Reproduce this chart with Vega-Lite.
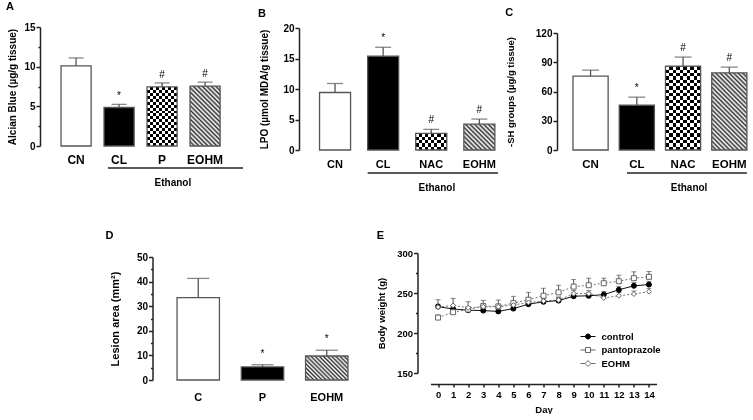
{
"$schema": "https://vega.github.io/schema/vega-lite/v6.json",
"padding": {"left": 5, "top": 1, "right": 0, "bottom": 0},
"spacing": 36,
"center": true,
"resolve": {"scale": {"shape": "independent", "fill": "independent", "stroke": "independent"}, "legend": {"shape": "independent", "fill": "independent", "stroke": "independent"}},
"config": {
  "font": "Liberation Sans",
  "view": {"stroke": null},
  "axis": {"labelFontWeight": "bold", "titleFontWeight": "bold", "labelColor": "#000", "titleColor": "#000", "domainColor": "#222", "tickColor": "#222", "domainWidth": 1.5, "tickWidth": 1.5, "grid": false, "labelOverlap": false},
  "title": {"fontSize": 11, "fontWeight": "bold", "anchor": "start", "frame": "bounds", "color": "#000"},
  "legend": {"labelFontWeight": "bold", "labelColor": "#000"}
},
"vconcat": [
{
"hconcat": [
{
  "width": 210, "height": 119,
  "title": {"text": "A", "offset": 10, "dx": -2},
  "data": {"values": [{"g":"CN","mean":10.1,"upper":11.1,"sig":""},{"g":"CL","mean":4.85,"upper":5.25,"sig":"*"},{"g":"P","mean":7.45,"upper":7.95,"sig":"#"},{"g":"EOHM","mean":7.55,"upper":8.05,"sig":"#"}]},
  "encoding": {"x": {"field": "g", "type": "nominal", "scale": {"domain": ["CN","CL","P","EOHM"], "paddingInner": 0.3, "paddingOuter": 0.592, "align": 0.413}, "axis": {"title": null, "labelAngle": 0, "ticks": false, "domain": false, "labelPadding": 8, "labelFontSize": 12}}},
  "layer": [
    {"mark": {"type": "bar"}, "encoding": {"y": {"field": "mean", "type": "quantitative", "scale": {"domain": [0, 15], "nice": false}, "axis": {"title": "Alcian Blue (µg/g tissue)", "titleFontSize": 10, "titlePadding": 6, "labelFontSize": 10, "labelPadding": 1, "labelOverlap": false, "tickCount": 30, "format": "d", "values": [0,2.5,5,7.5,10,12.5,15], "labelExpr": "datum.value % 5 === 0 ? datum.label : ''", "tickSize": {"condition": {"test": "datum.value % 5 === 0", "value": 4}, "value": 2}}}, "fill": {"condition": {"test": "datum.g === 'CL'", "value": "#000"}, "value": "#fff"}}},
    {"transform": [{"filter": "datum.g === 'P'"}], "mark": {"type": "bar", "fill": {"gradient":"linear","x1":0,"y1":0,"x2":0,"y2":1,"stops":[{"offset":0,"color":"#000"},{"offset":0.05,"color":"#000"},{"offset":0.05,"color":"#fff"},{"offset":0.1,"color":"#fff"},{"offset":0.1,"color":"#000"},{"offset":0.15,"color":"#000"},{"offset":0.15,"color":"#fff"},{"offset":0.2,"color":"#fff"},{"offset":0.2,"color":"#000"},{"offset":0.25,"color":"#000"},{"offset":0.25,"color":"#fff"},{"offset":0.3,"color":"#fff"},{"offset":0.3,"color":"#000"},{"offset":0.35,"color":"#000"},{"offset":0.35,"color":"#fff"},{"offset":0.4,"color":"#fff"},{"offset":0.4,"color":"#000"},{"offset":0.45,"color":"#000"},{"offset":0.45,"color":"#fff"},{"offset":0.5,"color":"#fff"},{"offset":0.5,"color":"#000"},{"offset":0.55,"color":"#000"},{"offset":0.55,"color":"#fff"},{"offset":0.6,"color":"#fff"},{"offset":0.6,"color":"#000"},{"offset":0.65,"color":"#000"},{"offset":0.65,"color":"#fff"},{"offset":0.7,"color":"#fff"},{"offset":0.7,"color":"#000"},{"offset":0.75,"color":"#000"},{"offset":0.75,"color":"#fff"},{"offset":0.8,"color":"#fff"},{"offset":0.8,"color":"#000"},{"offset":0.85,"color":"#000"},{"offset":0.85,"color":"#fff"},{"offset":0.9,"color":"#fff"},{"offset":0.9,"color":"#000"},{"offset":0.95,"color":"#000"},{"offset":0.95,"color":"#fff"},{"offset":1,"color":"#fff"}]}}, "encoding": {"y": {"field": "mean", "type": "quantitative"}}},
    {"transform": [{"filter": "datum.g === 'P'"}], "mark": {"type": "bar", "blend": "difference", "fill": {"gradient":"linear","x1":0,"y1":0,"x2":1,"y2":0,"stops":[{"offset":0,"color":"#fff"},{"offset":0.1,"color":"#fff"},{"offset":0.1,"color":"#000"},{"offset":0.2,"color":"#000"},{"offset":0.2,"color":"#fff"},{"offset":0.3,"color":"#fff"},{"offset":0.3,"color":"#000"},{"offset":0.4,"color":"#000"},{"offset":0.4,"color":"#fff"},{"offset":0.5,"color":"#fff"},{"offset":0.5,"color":"#000"},{"offset":0.6,"color":"#000"},{"offset":0.6,"color":"#fff"},{"offset":0.7,"color":"#fff"},{"offset":0.7,"color":"#000"},{"offset":0.8,"color":"#000"},{"offset":0.8,"color":"#fff"},{"offset":0.9,"color":"#fff"},{"offset":0.9,"color":"#000"},{"offset":1,"color":"#000"}]}}, "encoding": {"y": {"field": "mean", "type": "quantitative"}}},
    {"transform": [{"filter": "datum.g === 'EOHM'"}], "mark": {"type": "bar", "fill": {"gradient":"linear","x1":0,"y1":1,"x2":0.603,"y2":-0.2,"stops":[{"offset":0,"color":"#333"},{"offset":0.025,"color":"#fff"},{"offset":0.05,"color":"#333"},{"offset":0.075,"color":"#fff"},{"offset":0.1,"color":"#333"},{"offset":0.125,"color":"#fff"},{"offset":0.15,"color":"#333"},{"offset":0.175,"color":"#fff"},{"offset":0.2,"color":"#333"},{"offset":0.225,"color":"#fff"},{"offset":0.25,"color":"#333"},{"offset":0.275,"color":"#fff"},{"offset":0.3,"color":"#333"},{"offset":0.325,"color":"#fff"},{"offset":0.35,"color":"#333"},{"offset":0.375,"color":"#fff"},{"offset":0.4,"color":"#333"},{"offset":0.425,"color":"#fff"},{"offset":0.45,"color":"#333"},{"offset":0.475,"color":"#fff"},{"offset":0.5,"color":"#333"},{"offset":0.525,"color":"#fff"},{"offset":0.55,"color":"#333"},{"offset":0.575,"color":"#fff"},{"offset":0.6,"color":"#333"},{"offset":0.625,"color":"#fff"},{"offset":0.65,"color":"#333"},{"offset":0.675,"color":"#fff"},{"offset":0.7,"color":"#333"},{"offset":0.725,"color":"#fff"},{"offset":0.75,"color":"#333"},{"offset":0.775,"color":"#fff"},{"offset":0.8,"color":"#333"},{"offset":0.825,"color":"#fff"},{"offset":0.85,"color":"#333"},{"offset":0.875,"color":"#fff"},{"offset":0.9,"color":"#333"},{"offset":0.925,"color":"#fff"},{"offset":0.95,"color":"#333"},{"offset":0.975,"color":"#fff"},{"offset":1,"color":"#333"}]}}, "encoding": {"y": {"field": "mean", "type": "quantitative"}}},
    {"mark": {"type": "bar", "fill": "transparent", "stroke": "#555", "strokeWidth": 1.3}, "encoding": {"y": {"field": "mean", "type": "quantitative"}}},
    {"mark": {"type": "rule", "color": "#555", "strokeWidth": 1.3}, "encoding": {"y": {"field": "mean", "type": "quantitative"}, "y2": {"field": "upper"}}},
    {"mark": {"type": "tick", "color": "#555", "thickness": 1.3, "size": 15}, "encoding": {"y": {"field": "upper", "type": "quantitative"}}},
    {"mark": {"type": "text", "fontSize": 10, "baseline": "bottom", "dy": -3}, "encoding": {"y": {"field": "upper", "type": "quantitative"}, "text": {"field": "sig"}}},
    {"data": {"values": [{"from":"CL","to":"EOHM","mid":"P","label":"Ethanol"}]}, "mark": {"type": "rule", "color": "#222", "strokeWidth": 1.5}, "encoding": {"x": {"field": "from", "type": "nominal", "bandPosition": 0.13}, "x2": {"field": "to", "bandPosition": 1.76}, "y": {"datum": -2.77}}},
    {"data": {"values": [{"from":"CL","to":"EOHM","mid":"P","label":"Ethanol"}]}, "mark": {"type": "text", "fontSize": 10, "fontWeight": "bold", "baseline": "middle"}, "encoding": {"x": {"field": "mid", "type": "nominal", "bandPosition": 0.86}, "y": {"datum": -4.66}, "text": {"field": "label"}}}
  ]
},
{
  "width": 209, "height": 123,
  "title": {"text": "B", "offset": 4, "dx": -2},
  "data": {"values": [{"g":"CN","mean":9.43,"upper":10.9,"sig":""},{"g":"CL","mean":15.37,"upper":16.84,"sig":"*"},{"g":"NAC","mean":2.72,"upper":3.38,"sig":"#"},{"g":"EOHM","mean":4.25,"upper":5.07,"sig":"#"}]},
  "encoding": {"x": {"field": "g", "type": "nominal", "scale": {"domain": ["CN","CL","NAC","EOHM"], "paddingInner": 0.355, "paddingOuter": 0.35, "align": 0.61}, "axis": {"title": null, "labelAngle": 0, "ticks": false, "domain": false, "labelPadding": 8, "labelFontSize": 11}}},
  "layer": [
    {"mark": {"type": "bar"}, "encoding": {"y": {"field": "mean", "type": "quantitative", "scale": {"domain": [0, 20], "nice": false, "range": [123, 1]}, "axis": {"title": "LPO (µmol MDA/g tissue)", "titleFontSize": 10, "titlePadding": 13, "labelFontSize": 10, "labelPadding": 1, "labelOverlap": false, "tickCount": 30, "format": "d", "values": [0,5,10,15,20], "tickSize": 4}}, "fill": {"condition": {"test": "datum.g === 'CL'", "value": "#000"}, "value": "#fff"}}},
    {"transform": [{"filter": "datum.g === 'NAC'"}], "mark": {"type": "bar", "fill": {"gradient":"linear","x1":0,"y1":0,"x2":0,"y2":1,"stops":[{"offset":0,"color":"#000"},{"offset":0.2,"color":"#000"},{"offset":0.2,"color":"#fff"},{"offset":0.4,"color":"#fff"},{"offset":0.4,"color":"#000"},{"offset":0.6,"color":"#000"},{"offset":0.6,"color":"#fff"},{"offset":0.8,"color":"#fff"},{"offset":0.8,"color":"#000"},{"offset":1,"color":"#000"}]}}, "encoding": {"y": {"field": "mean", "type": "quantitative"}}},
    {"transform": [{"filter": "datum.g === 'NAC'"}], "mark": {"type": "bar", "blend": "difference", "fill": {"gradient":"linear","x1":0,"y1":0,"x2":1,"y2":0,"stops":[{"offset":0,"color":"#fff"},{"offset":0.1,"color":"#fff"},{"offset":0.1,"color":"#000"},{"offset":0.2,"color":"#000"},{"offset":0.2,"color":"#fff"},{"offset":0.3,"color":"#fff"},{"offset":0.3,"color":"#000"},{"offset":0.4,"color":"#000"},{"offset":0.4,"color":"#fff"},{"offset":0.5,"color":"#fff"},{"offset":0.5,"color":"#000"},{"offset":0.6,"color":"#000"},{"offset":0.6,"color":"#fff"},{"offset":0.7,"color":"#fff"},{"offset":0.7,"color":"#000"},{"offset":0.8,"color":"#000"},{"offset":0.8,"color":"#fff"},{"offset":0.9,"color":"#fff"},{"offset":0.9,"color":"#000"},{"offset":1,"color":"#000"}]}}, "encoding": {"y": {"field": "mean", "type": "quantitative"}}},
    {"transform": [{"filter": "datum.g === 'EOHM'"}], "mark": {"type": "bar", "fill": {"gradient":"linear","x1":0,"y1":1,"x2":1.081,"y2":0.097,"stops":[{"offset":0,"color":"#333"},{"offset":0.04,"color":"#fff"},{"offset":0.08,"color":"#333"},{"offset":0.12,"color":"#fff"},{"offset":0.16,"color":"#333"},{"offset":0.2,"color":"#fff"},{"offset":0.24,"color":"#333"},{"offset":0.28,"color":"#fff"},{"offset":0.32,"color":"#333"},{"offset":0.36,"color":"#fff"},{"offset":0.4,"color":"#333"},{"offset":0.44,"color":"#fff"},{"offset":0.48,"color":"#333"},{"offset":0.52,"color":"#fff"},{"offset":0.56,"color":"#333"},{"offset":0.6,"color":"#fff"},{"offset":0.64,"color":"#333"},{"offset":0.68,"color":"#fff"},{"offset":0.72,"color":"#333"},{"offset":0.76,"color":"#fff"},{"offset":0.8,"color":"#333"},{"offset":0.84,"color":"#fff"},{"offset":0.88,"color":"#333"},{"offset":0.92,"color":"#fff"},{"offset":0.96,"color":"#333"},{"offset":1,"color":"#fff"}]}}, "encoding": {"y": {"field": "mean", "type": "quantitative"}}},
    {"mark": {"type": "bar", "fill": "transparent", "stroke": "#555", "strokeWidth": 1.3}, "encoding": {"y": {"field": "mean", "type": "quantitative"}}},
    {"mark": {"type": "rule", "color": "#555", "strokeWidth": 1.3}, "encoding": {"y": {"field": "mean", "type": "quantitative"}, "y2": {"field": "upper"}}},
    {"mark": {"type": "tick", "color": "#555", "thickness": 1.3, "size": 16}, "encoding": {"y": {"field": "upper", "type": "quantitative"}}},
    {"mark": {"type": "text", "fontSize": 10, "baseline": "bottom", "dy": -4}, "encoding": {"y": {"field": "upper", "type": "quantitative"}, "text": {"field": "sig"}}},
    {"data": {"values": [{"from":"CL","to":"EOHM","mid":"NAC","label":"Ethanol"}]}, "mark": {"type": "rule", "color": "#222", "strokeWidth": 1.5}, "encoding": {"x": {"field": "from", "type": "nominal", "bandPosition": 0}, "x2": {"field": "to", "bandPosition": 1.1}, "y": {"datum": -3.77}}},
    {"data": {"values": [{"from":"CL","to":"EOHM","mid":"NAC","label":"Ethanol"}]}, "mark": {"type": "text", "fontSize": 10, "fontWeight": "bold", "baseline": "middle"}, "encoding": {"x": {"field": "mid", "type": "nominal", "bandPosition": 0.68}, "y": {"datum": -6.23}, "text": {"field": "label"}}}
  ]
},
{
  "width": 217, "height": 123,
  "title": {"text": "C", "offset": 9, "dx": 0},
  "data": {"values": [{"g":"CN","mean":75.8,"upper":81.9,"sig":""},{"g":"CL","mean":45.9,"upper":54.2,"sig":"*"},{"g":"NAC","mean":86,"upper":95.3,"sig":"#"},{"g":"EOHM","mean":79.2,"upper":85,"sig":"#"}]},
  "encoding": {"x": {"field": "g", "type": "nominal", "scale": {"domain": ["CN","CL","NAC","EOHM"], "paddingInner": 0.24, "paddingOuter": 0.466, "align": 0.371}, "axis": {"title": null, "labelAngle": 0, "ticks": false, "domain": false, "labelPadding": 8, "labelFontSize": 11.5}}},
  "layer": [
    {"mark": {"type": "bar"}, "encoding": {"y": {"field": "mean", "type": "quantitative", "scale": {"domain": [0, 120], "nice": false, "range": [123, 6]}, "axis": {"title": "-SH groups (µg/g tissue)", "titleFontSize": 9.5, "titlePadding": 20, "labelFontSize": 10, "labelPadding": 1, "labelOverlap": false, "tickCount": 30, "format": "d", "values": [0,30,60,90,120], "tickSize": 4}}, "fill": {"condition": {"test": "datum.g === 'CL'", "value": "#000"}, "value": "#fff"}}},
    {"transform": [{"filter": "datum.g === 'NAC'"}], "mark": {"type": "bar", "fill": {"gradient":"linear","x1":0,"y1":0,"x2":0,"y2":1,"stops":[{"offset":0,"color":"#000"},{"offset":0.04,"color":"#000"},{"offset":0.04,"color":"#fff"},{"offset":0.08,"color":"#fff"},{"offset":0.08,"color":"#000"},{"offset":0.12,"color":"#000"},{"offset":0.12,"color":"#fff"},{"offset":0.16,"color":"#fff"},{"offset":0.16,"color":"#000"},{"offset":0.2,"color":"#000"},{"offset":0.2,"color":"#fff"},{"offset":0.24,"color":"#fff"},{"offset":0.24,"color":"#000"},{"offset":0.28,"color":"#000"},{"offset":0.28,"color":"#fff"},{"offset":0.32,"color":"#fff"},{"offset":0.32,"color":"#000"},{"offset":0.36,"color":"#000"},{"offset":0.36,"color":"#fff"},{"offset":0.4,"color":"#fff"},{"offset":0.4,"color":"#000"},{"offset":0.44,"color":"#000"},{"offset":0.44,"color":"#fff"},{"offset":0.48,"color":"#fff"},{"offset":0.48,"color":"#000"},{"offset":0.52,"color":"#000"},{"offset":0.52,"color":"#fff"},{"offset":0.56,"color":"#fff"},{"offset":0.56,"color":"#000"},{"offset":0.6,"color":"#000"},{"offset":0.6,"color":"#fff"},{"offset":0.64,"color":"#fff"},{"offset":0.64,"color":"#000"},{"offset":0.68,"color":"#000"},{"offset":0.68,"color":"#fff"},{"offset":0.72,"color":"#fff"},{"offset":0.72,"color":"#000"},{"offset":0.76,"color":"#000"},{"offset":0.76,"color":"#fff"},{"offset":0.8,"color":"#fff"},{"offset":0.8,"color":"#000"},{"offset":0.84,"color":"#000"},{"offset":0.84,"color":"#fff"},{"offset":0.88,"color":"#fff"},{"offset":0.88,"color":"#000"},{"offset":0.92,"color":"#000"},{"offset":0.92,"color":"#fff"},{"offset":0.96,"color":"#fff"},{"offset":0.96,"color":"#000"},{"offset":1,"color":"#000"}]}}, "encoding": {"y": {"field": "mean", "type": "quantitative"}}},
    {"transform": [{"filter": "datum.g === 'NAC'"}], "mark": {"type": "bar", "blend": "difference", "fill": {"gradient":"linear","x1":0,"y1":0,"x2":1,"y2":0,"stops":[{"offset":0,"color":"#fff"},{"offset":0.1,"color":"#fff"},{"offset":0.1,"color":"#000"},{"offset":0.2,"color":"#000"},{"offset":0.2,"color":"#fff"},{"offset":0.3,"color":"#fff"},{"offset":0.3,"color":"#000"},{"offset":0.4,"color":"#000"},{"offset":0.4,"color":"#fff"},{"offset":0.5,"color":"#fff"},{"offset":0.5,"color":"#000"},{"offset":0.6,"color":"#000"},{"offset":0.6,"color":"#fff"},{"offset":0.7,"color":"#fff"},{"offset":0.7,"color":"#000"},{"offset":0.8,"color":"#000"},{"offset":0.8,"color":"#fff"},{"offset":0.9,"color":"#fff"},{"offset":0.9,"color":"#000"},{"offset":1,"color":"#000"}]}}, "encoding": {"y": {"field": "mean", "type": "quantitative"}}},
    {"transform": [{"filter": "datum.g === 'EOHM'"}], "mark": {"type": "bar", "fill": {"gradient":"linear","x1":0,"y1":1,"x2":0.55,"y2":-0.205,"stops":[{"offset":0,"color":"#333"},{"offset":0.02,"color":"#fff"},{"offset":0.04,"color":"#333"},{"offset":0.06,"color":"#fff"},{"offset":0.08,"color":"#333"},{"offset":0.1,"color":"#fff"},{"offset":0.12,"color":"#333"},{"offset":0.14,"color":"#fff"},{"offset":0.16,"color":"#333"},{"offset":0.18,"color":"#fff"},{"offset":0.2,"color":"#333"},{"offset":0.22,"color":"#fff"},{"offset":0.24,"color":"#333"},{"offset":0.26,"color":"#fff"},{"offset":0.28,"color":"#333"},{"offset":0.3,"color":"#fff"},{"offset":0.32,"color":"#333"},{"offset":0.34,"color":"#fff"},{"offset":0.36,"color":"#333"},{"offset":0.38,"color":"#fff"},{"offset":0.4,"color":"#333"},{"offset":0.42,"color":"#fff"},{"offset":0.44,"color":"#333"},{"offset":0.46,"color":"#fff"},{"offset":0.48,"color":"#333"},{"offset":0.5,"color":"#fff"},{"offset":0.52,"color":"#333"},{"offset":0.54,"color":"#fff"},{"offset":0.56,"color":"#333"},{"offset":0.58,"color":"#fff"},{"offset":0.6,"color":"#333"},{"offset":0.62,"color":"#fff"},{"offset":0.64,"color":"#333"},{"offset":0.66,"color":"#fff"},{"offset":0.68,"color":"#333"},{"offset":0.7,"color":"#fff"},{"offset":0.72,"color":"#333"},{"offset":0.74,"color":"#fff"},{"offset":0.76,"color":"#333"},{"offset":0.78,"color":"#fff"},{"offset":0.8,"color":"#333"},{"offset":0.82,"color":"#fff"},{"offset":0.84,"color":"#333"},{"offset":0.86,"color":"#fff"},{"offset":0.88,"color":"#333"},{"offset":0.9,"color":"#fff"},{"offset":0.92,"color":"#333"},{"offset":0.94,"color":"#fff"},{"offset":0.96,"color":"#333"},{"offset":0.98,"color":"#fff"},{"offset":1,"color":"#333"}]}}, "encoding": {"y": {"field": "mean", "type": "quantitative"}}},
    {"mark": {"type": "bar", "fill": "transparent", "stroke": "#555", "strokeWidth": 1.3}, "encoding": {"y": {"field": "mean", "type": "quantitative"}}},
    {"mark": {"type": "rule", "color": "#555", "strokeWidth": 1.3}, "encoding": {"y": {"field": "mean", "type": "quantitative"}, "y2": {"field": "upper"}}},
    {"mark": {"type": "tick", "color": "#555", "thickness": 1.3, "size": 17}, "encoding": {"y": {"field": "upper", "type": "quantitative"}}},
    {"mark": {"type": "text", "fontSize": 10, "baseline": "bottom", "dy": -4}, "encoding": {"y": {"field": "upper", "type": "quantitative"}, "text": {"field": "sig"}}},
    {"data": {"values": [{"from":"CL","to":"EOHM","mid":"NAC","label":"Ethanol"}]}, "mark": {"type": "rule", "color": "#222", "strokeWidth": 1.5}, "encoding": {"x": {"field": "from", "type": "nominal", "bandPosition": 0.22}, "x2": {"field": "to", "bandPosition": 1}, "y": {"datum": -23.6}}},
    {"data": {"values": [{"from":"CL","to":"EOHM","mid":"NAC","label":"Ethanol"}]}, "mark": {"type": "text", "fontSize": 10, "fontWeight": "bold", "baseline": "middle"}, "encoding": {"x": {"field": "mid", "type": "nominal", "bandPosition": 0.67}, "y": {"datum": -39}, "text": {"field": "label"}}}
  ]
}
],
"spacing": 49,
"bounds": "flush"
},
{
"hconcat": [
{
  "width": 220, "height": 127,
  "title": {"text": "D", "offset": 11, "dx": -4},
  "data": {"values": [{"g":"C","mean":33.5,"upper":41.3,"sig":""},{"g":"P","mean":5.3,"upper":6.2,"sig":"*"},{"g":"EOHM","mean":9.76,"upper":12.1,"sig":"*"}]},
  "encoding": {"x": {"field": "g", "type": "nominal", "scale": {"domain": ["C","P","EOHM"], "paddingInner": 0.34, "paddingOuter": 0.382}, "axis": {"title": null, "labelAngle": 0, "ticks": false, "domain": false, "labelPadding": 11, "labelFontSize": 11}}},
  "layer": [
    {"mark": {"type": "bar"}, "encoding": {"y": {"field": "mean", "type": "quantitative", "scale": {"domain": [0, 50], "nice": false, "range": [127, 4]}, "axis": {"title": "Lesion area (mm²)", "titleFontSize": 11, "titlePadding": 16, "labelFontSize": 10, "labelPadding": 1, "labelOverlap": false, "tickCount": 30, "format": "d", "values": [0,5,10,15,20,25,30,35,40,45,50], "labelExpr": "datum.value % 10 === 0 ? datum.label : ''", "tickSize": {"condition": {"test": "datum.value % 10 === 0", "value": 4}, "value": 2}}}, "fill": {"condition": {"test": "datum.g === 'P'", "value": "#000"}, "value": "#fff"}}},
    {"transform": [{"filter": "datum.g === 'EOHM'"}], "mark": {"type": "bar", "fill": {"gradient":"linear","x1":0,"y1":1,"x2":1.186,"y2":0.329,"stops":[{"offset":0,"color":"#333"},{"offset":0.03125,"color":"#fff"},{"offset":0.0625,"color":"#333"},{"offset":0.09375,"color":"#fff"},{"offset":0.125,"color":"#333"},{"offset":0.15625,"color":"#fff"},{"offset":0.1875,"color":"#333"},{"offset":0.21875,"color":"#fff"},{"offset":0.25,"color":"#333"},{"offset":0.28125,"color":"#fff"},{"offset":0.3125,"color":"#333"},{"offset":0.34375,"color":"#fff"},{"offset":0.375,"color":"#333"},{"offset":0.40625,"color":"#fff"},{"offset":0.4375,"color":"#333"},{"offset":0.46875,"color":"#fff"},{"offset":0.5,"color":"#333"},{"offset":0.53125,"color":"#fff"},{"offset":0.5625,"color":"#333"},{"offset":0.59375,"color":"#fff"},{"offset":0.625,"color":"#333"},{"offset":0.65625,"color":"#fff"},{"offset":0.6875,"color":"#333"},{"offset":0.71875,"color":"#fff"},{"offset":0.75,"color":"#333"},{"offset":0.78125,"color":"#fff"},{"offset":0.8125,"color":"#333"},{"offset":0.84375,"color":"#fff"},{"offset":0.875,"color":"#333"},{"offset":0.90625,"color":"#fff"},{"offset":0.9375,"color":"#333"},{"offset":0.96875,"color":"#fff"},{"offset":1,"color":"#333"}]}}, "encoding": {"y": {"field": "mean", "type": "quantitative"}}},
    {"mark": {"type": "bar", "fill": "transparent", "stroke": "#555", "strokeWidth": 1.3}, "encoding": {"y": {"field": "mean", "type": "quantitative"}}},
    {"mark": {"type": "rule", "color": "#555", "strokeWidth": 1.3}, "encoding": {"y": {"field": "mean", "type": "quantitative"}, "y2": {"field": "upper"}}},
    {"mark": {"type": "tick", "color": "#555", "thickness": 1.3, "size": 22}, "encoding": {"y": {"field": "upper", "type": "quantitative"}}},
    {"mark": {"type": "text", "fontSize": 10, "baseline": "bottom", "dy": -6}, "encoding": {"y": {"field": "upper", "type": "quantitative"}, "text": {"field": "sig"}}}
  ]
},
{
  "width": 226, "height": 120,
  "title": {"text": "E", "offset": 7, "dx": 0},
  "resolve": {"scale": {"shape": "independent", "fill": "independent", "stroke": "independent"}},
  "data": {"values": [
    {"day":0,"series":"control","w":233,"up":241.6},{"day":1,"series":"control","w":230,"up":234},{"day":2,"series":"control","w":228.5,"up":232},{"day":3,"series":"control","w":228,"up":232},{"day":4,"series":"control","w":227,"up":231},{"day":5,"series":"control","w":230.5,"up":234.5},{"day":6,"series":"control","w":236,"up":240},{"day":7,"series":"control","w":239,"up":243},{"day":8,"series":"control","w":240.5,"up":244.5},{"day":9,"series":"control","w":246,"up":250},{"day":10,"series":"control","w":246.5,"up":250.5},{"day":11,"series":"control","w":248,"up":252},{"day":12,"series":"control","w":254,"up":258},{"day":13,"series":"control","w":259,"up":263},{"day":14,"series":"control","w":260.5,"up":264.5},
    {"day":0,"series":"pantoprazole","w":219.3,"up":222.5},{"day":1,"series":"pantoprazole","w":226,"up":229},{"day":2,"series":"pantoprazole","w":229.4,"up":232.5},{"day":3,"series":"pantoprazole","w":233.6,"up":236.5},{"day":4,"series":"pantoprazole","w":233.2,"up":236},{"day":5,"series":"pantoprazole","w":237.4,"up":245.8},{"day":6,"series":"pantoprazole","w":241.6,"up":250.8},{"day":7,"series":"pantoprazole","w":246.6,"up":255.9},{"day":8,"series":"pantoprazole","w":250.8,"up":259.7},{"day":9,"series":"pantoprazole","w":258,"up":266.8},{"day":10,"series":"pantoprazole","w":259.7,"up":268.5},{"day":11,"series":"pantoprazole","w":262.2,"up":268.5},{"day":12,"series":"pantoprazole","w":264.7,"up":272.3},{"day":13,"series":"pantoprazole","w":268.5,"up":276.5},{"day":14,"series":"pantoprazole","w":270.2,"up":276.9},
    {"day":0,"series":"EOHM","w":232.4,"up":236},{"day":1,"series":"EOHM","w":234.5,"up":243.3},{"day":2,"series":"EOHM","w":231.5,"up":239.1},{"day":3,"series":"EOHM","w":232.8,"up":240.8},{"day":4,"series":"EOHM","w":232.8,"up":241.2},{"day":5,"series":"EOHM","w":234.9,"up":238.5},{"day":6,"series":"EOHM","w":238.2,"up":242},{"day":7,"series":"EOHM","w":239.9,"up":243.5},{"day":8,"series":"EOHM","w":241.2,"up":245},{"day":9,"series":"EOHM","w":249.2,"up":253},{"day":10,"series":"EOHM","w":249.2,"up":253},{"day":11,"series":"EOHM","w":243.7,"up":247.5},{"day":12,"series":"EOHM","w":246.6,"up":250.5},{"day":13,"series":"EOHM","w":248.7,"up":252.5},{"day":14,"series":"EOHM","w":251.7,"up":255.5}
  ]},
  "encoding": {"x": {"field": "day", "type": "quantitative", "scale": {"domain": [-0.5, 14.5], "nice": false, "zero": false}, "axis": {"title": "Day", "values": [0,1,2,3,4,5,6,7,8,9,10,11,12,13,14], "tickCount": 30, "format": "d", "offset": 11, "tickSize": 3, "labelPadding": 2, "labelFontSize": 9.5, "titleFontSize": 9.5, "titlePadding": 6, "labelFlush": false, "labelOverlap": false}}},
  "layer": [
    {"mark": {"type": "rule", "color": "#555", "strokeWidth": 1}, "encoding": {"y": {"field": "w", "type": "quantitative", "scale": {"domain": [150, 300], "nice": false, "zero": false}, "axis": {"title": "Body weight (g)", "values": [150,175,200,225,250,275,300], "tickCount": 30, "format": "d", "labelExpr": "datum.value % 50 === 0 ? datum.label : ''", "tickSize": {"condition": {"test": "datum.value % 50 === 0", "value": 4}, "value": 2}, "offset": 13, "labelPadding": 1, "labelOverlap": false, "labelFontSize": 9.5, "titleFontSize": 9.5, "titlePadding": 10}}, "y2": {"field": "up"}}},
    {"mark": {"type": "tick", "orient": "horizontal", "color": "#555", "thickness": 1, "size": 5}, "encoding": {"y": {"field": "up", "type": "quantitative"}}},
    {"transform": [{"filter": "datum.series !== 'control'"}], "mark": {"type": "line", "color": "#777", "strokeWidth": 1, "strokeDash": [2, 2]}, "encoding": {"y": {"field": "w", "type": "quantitative"}, "detail": {"field": "series", "type": "nominal"}}},
    {"transform": [{"filter": "datum.series === 'control'"}], "mark": {"type": "line", "color": "#111", "strokeWidth": 1}, "encoding": {"y": {"field": "w", "type": "quantitative"}}},
    {"mark": {"type": "point", "size": 25, "strokeWidth": 1, "opacity": 1}, "encoding": {
      "y": {"field": "w", "type": "quantitative"},
      "shape": {"field": "series", "type": "nominal", "scale": {"domain": ["control","pantoprazole","EOHM"], "range": ["circle","square","diamond"]}, "legend": null},
      "fill": {"field": "series", "type": "nominal", "scale": {"domain": ["control","pantoprazole","EOHM"], "range": ["#000","#fff","#fff"]}, "legend": null},
      "stroke": {"field": "series", "type": "nominal", "scale": {"domain": ["control","pantoprazole","EOHM"], "range": ["#000","#666","#666"]}, "legend": null}
    }},
    {"transform": [{"filter": "datum.day < 0"}], "mark": {"type": "point", "filled": true, "strokeWidth": 1, "opacity": 1}, "encoding": {
      "y": {"field": "w", "type": "quantitative"},
      "shape": {"field": "series", "type": "nominal", "scale": {"domain": ["control","pantoprazole","EOHM"], "range": ["M-1.5,0H-0.5M0.5,0H1.5M0.5,0A0.5,0.5,0,1,1,-0.5,0A0.5,0.5,0,1,1,0.5,0Z", "M-1.5,0H-0.5M0.5,0H1.5M-0.5,-0.5H0.5V0.5H-0.5Z", "M-1.5,0H-0.6M0.6,0H1.5M0,-0.6L0.6,0L0,0.6L-0.6,0Z"]}, "legend": {"orient": "none", "legendX": 152, "legendY": 78, "title": null, "labelFontSize": 9.5, "symbolSize": 100, "labelOffset": 8, "rowPadding": 3.5, "padding": 0, "symbolStrokeWidth": 1}},
      "fill": {"field": "series", "type": "nominal", "scale": {"domain": ["control","pantoprazole","EOHM"], "range": ["#000","#fff","#fff"]}, "legend": {"orient": "none", "legendX": 152, "legendY": 78, "title": null}},
      "stroke": {"field": "series", "type": "nominal", "scale": {"domain": ["control","pantoprazole","EOHM"], "range": ["#000","#666","#666"]}, "legend": {"orient": "none", "legendX": 152, "legendY": 78, "title": null}}
    }}
  ]
}
],
"spacing": 58,
"bounds": "flush",
"resolve": {"scale": {"shape": "independent", "fill": "independent", "stroke": "independent"}, "legend": {"shape": "independent", "fill": "independent", "stroke": "independent"}}
}
]
}
